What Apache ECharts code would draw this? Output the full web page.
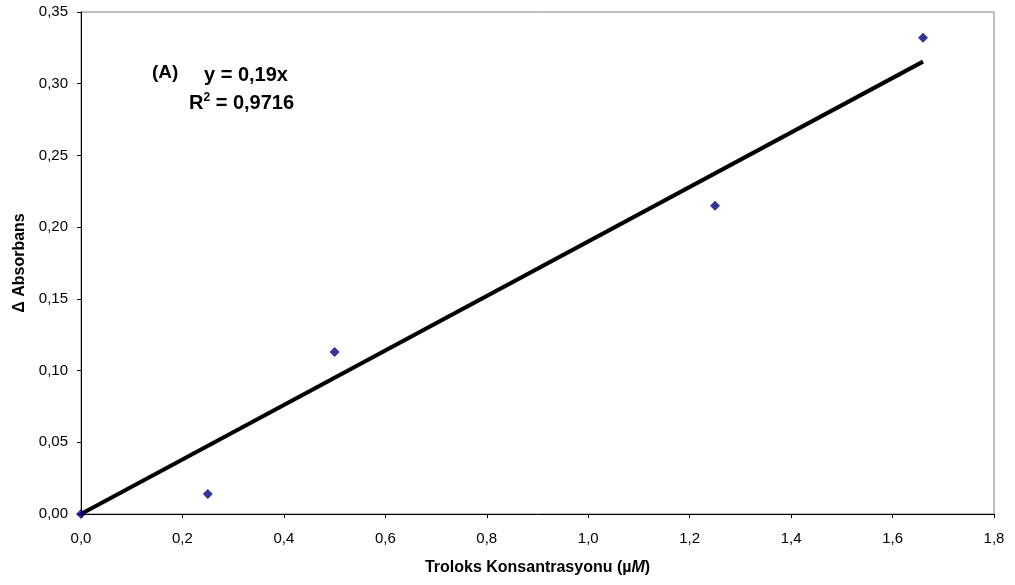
<!DOCTYPE html>
<html>
<head>
<meta charset="utf-8">
<script src="https://cdn.jsdelivr.net/npm/echarts@6/dist/echarts.min.js"></script>
<style>
  html, body { margin: 0; padding: 0; background: #fff; }
  #chart { width: 1015px; height: 585px; }
</style>
</head>
<body>
<div id="chart"></div>
<script>
var concentration = [0, 0.25, 0.5, 1.25, 1.66];
var absorbance = [0, 0.014, 0.113, 0.215, 0.332];
var trendLine = [[0, 0], [1.66, 0.3154]];
var equationText = 'y = 0,19x';
var r2Text = '0,9716';

function comma(v, d) { return v.toFixed(d).replace('.', ','); }

var chart = echarts.init(document.getElementById('chart'), null, { renderer: 'canvas' });
var font = 'Liberation Sans, Arial, sans-serif';

chart.setOption({
  animation: false,
  backgroundColor: '#fff',
  grid: { left: 81, right: 21, top: 12, bottom: 71, show: true, borderColor: '#808080', borderWidth: 1 },
  xAxis: {
    type: 'value', min: 0, max: 1.8, interval: 0.2,
    name: '{b|Troloks Konsantrasyonu (µ}{i|M}{b|)}',
    nameLocation: 'middle', nameGap: 46,
    nameTextStyle: {
      rich: {
        b: { fontFamily: font, fontWeight: 'bold', fontSize: 16, color: '#000' },
        i: { fontFamily: font, fontWeight: 'bold', fontStyle: 'italic', fontSize: 16, color: '#000' }
      }
    },
    axisLine: { onZero: false, lineStyle: { color: '#000', width: 1 } },
    axisTick: { show: true, inside: false, length: 4, lineStyle: { color: '#000' } },
    axisLabel: { margin: 17, fontFamily: font, fontSize: 15, color: '#000', formatter: function(v) { return comma(v, 1); } },
    splitLine: { show: false }
  },
  yAxis: {
    type: 'value', min: 0, max: 0.35, interval: 0.05,
    name: 'Δ Absorbans', nameLocation: 'middle', nameGap: 51, nameRotate: 90,
    nameTextStyle: { fontFamily: font, fontWeight: 'bold', fontSize: 16, color: '#000' },
    axisLine: { show: true, onZero: false, lineStyle: { color: '#000', width: 1 } },
    axisTick: { show: true, inside: false, length: 4, lineStyle: { color: '#000' } },
    axisLabel: { margin: 13, fontFamily: font, fontSize: 15, color: '#000', formatter: function(v) { return comma(v, 2); } },
    splitLine: { show: false }
  },
  series: [
    {
      type: 'line',
      data: trendLine,
      symbol: 'none',
      lineStyle: { color: '#000', width: 4 },
      z: 2
    },
    {
      type: 'scatter',
      data: concentration.map(function(x, i) { return [x, absorbance[i]]; }),
      symbol: 'diamond',
      symbolSize: 10,
      itemStyle: { color: '#000080' },
      z: 3
    }
  ],
  graphic: [
    { type: 'text', left: 152, top: 63, style: { text: '(A)', font: 'bold 19px ' + font, fill: '#000' } },
    { type: 'text', left: 204, top: 65, style: { text: equationText, font: 'bold 20px ' + font, fill: '#000' } },
    {
      type: 'text', left: 189, top: 92,
      style: {
        text: '{b|R}{s|2}{b| = ' + r2Text + '}',
        rich: {
          b: { font: 'bold 20px ' + font, fill: '#000', verticalAlign: 'bottom' },
          s: { font: 'bold 12px ' + font, fill: '#000', verticalAlign: 'top', padding: [0, 0, 9, 0] }
        }
      }
    }
  ]
});
</script>
</body>
</html>
